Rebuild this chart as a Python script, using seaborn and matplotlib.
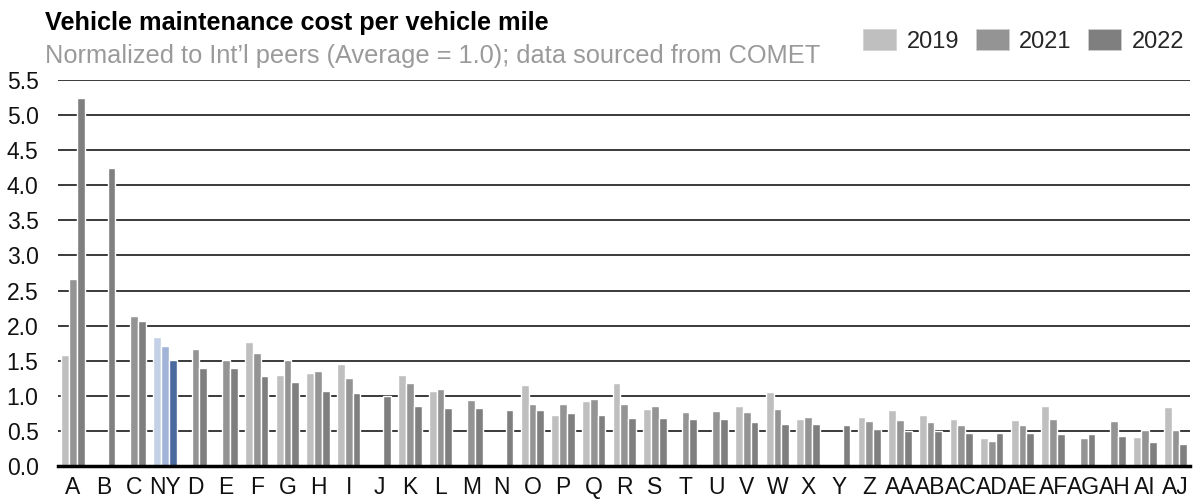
import numpy as np
import pandas as pd
import matplotlib
matplotlib.use("Agg")
import matplotlib.pyplot as plt
from matplotlib.patches import Patch
import seaborn as sns

# ------------------------------------------------------------------
# DATA (NaN = no bar)
# ------------------------------------------------------------------
categories = ["A", "B", "C", "NY", "D", "E", "F", "G", "H", "I", "J", "K", "L",
              "M", "N", "O", "P", "Q", "R", "S", "T", "U", "V", "W", "X", "Y",
              "Z", "AA", "AB", "AC", "AD", "AE", "AF", "AG", "AH", "AI", "AJ"]
years = ["2019", "2021", "2022"]
nan = np.nan

cost_2019 = [1.58, nan, nan, 1.84, nan, nan, 1.76, 1.30, 1.32, 1.45, nan, 1.29, 1.07,
             nan, nan, 1.15, 0.73, 0.92, 1.18, 0.81, nan, nan, 0.86, 1.05, 0.67, nan,
             0.70, 0.80, 0.72, 0.67, 0.40, 0.65, 0.86, nan, nan, 0.41, 0.84]
cost_2021 = [2.67, nan, 2.14, 1.71, 1.66, 1.51, 1.61, 1.51, 1.36, 1.26, nan, 1.18, 1.10,
             0.94, nan, 0.88, 0.88, 0.96, 0.89, 0.85, 0.77, 0.78, 0.77, 0.81, 0.70, nan,
             0.64, 0.65, 0.62, 0.59, 0.35, 0.58, 0.67, 0.40, 0.64, 0.51, 0.52]
cost_2022 = [5.24, 4.24, 2.06, 1.51, 1.39, 1.39, 1.28, 1.20, 1.07, 1.04, 1.00, 0.86, 0.83,
             0.83, 0.80, 0.80, 0.75, 0.72, 0.69, 0.69, 0.67, 0.67, 0.62, 0.60, 0.60, 0.58,
             0.53, 0.50, 0.50, 0.47, 0.47, 0.47, 0.45, 0.45, 0.43, 0.34, 0.32]

y_ticks = [0.0, 0.5, 1.0, 1.5, 2.0, 2.5, 3.0, 3.5, 4.0, 4.5, 5.0, 5.5]

grey_colors = {"2019": "#bfbfbf", "2021": "#949494", "2022": "#7f7f7f"}
ny_colors   = {"2019": "#c3d0e6", "2021": "#a1b4d8", "2022": "#4a6a9e"}

df = pd.DataFrame({
    "category": categories * 3,
    "year": [y for y in years for _ in categories],
    "value": cost_2019 + cost_2021 + cost_2022,
})

# ------------------------------------------------------------------
# PLOT
# ------------------------------------------------------------------
sns.set_style("white")
plt.rcParams["font.family"] = ["Liberation Sans", "DejaVu Sans"]

fig = plt.figure(figsize=(11.96, 5.0), dpi=100)
ax = fig.add_axes([58 / 1196, 34 / 500, 1132 / 1196, 386 / 500])

sns.barplot(
    data=df, x="category", y="value", hue="year",
    order=categories, hue_order=years,
    palette=grey_colors, width=0.76, gap=0,
    legend=False, ax=ax, zorder=3,
)

# recolour the NY group in blue shades (match bars by x position,
# since NaN bars are skipped inside the containers)
ny_idx = categories.index("NY")
for year, container in zip(years, ax.containers):
    for bar in container:
        cx = bar.get_x() + bar.get_width() / 2
        if abs(cx - ny_idx) < 0.5:
            bar.set_facecolor(ny_colors[year])

ax.set_xlim(-0.49, 36.47)
ax.set_ylim(0, 5.5)
ax.set_yticks(y_ticks)
ax.set_yticklabels([f"{t:.1f}" for t in y_ticks])
ax.set_xlabel("")
ax.set_ylabel("")

ax.yaxis.grid(True, color="#3a3a3a", linewidth=1.4, zorder=1)
ax.set_axisbelow(True)
for side in ["top", "right", "left"]:
    ax.spines[side].set_visible(False)
ax.spines["bottom"].set_color("black")
ax.spines["bottom"].set_linewidth(2.5)
ax.spines["bottom"].set_zorder(4)

ax.tick_params(axis="y", length=0, pad=14, labelsize=16.5, labelcolor="#111111")
ax.tick_params(axis="x", length=0, pad=7, labelsize=16.5, labelcolor="#111111")

# title + subtitle
fig.text(45 / 1196, 1 - 23 / 500, "Vehicle maintenance cost per vehicle mile",
         fontsize=18.2, fontweight="bold", color="black", va="center", ha="left")
fig.text(45 / 1196, 1 - 56 / 500,
         "Normalized to Int\u2019l peers (Average = 1.0); data sourced from COMET",
         fontsize=18.3, color="#9a9a9a", va="center", ha="left")

# legend
handles = [Patch(facecolor=grey_colors[y], edgecolor="#d0d0d0", linewidth=0.5)
           for y in years]
fig.legend(handles, years, loc="center right",
           bbox_to_anchor=(1194 / 1196, 1 - 41 / 500), ncol=3, frameon=False,
           fontsize=17, handlelength=1.4, handleheight=1.0,
           handletextpad=0.45, columnspacing=0.7, borderaxespad=0)

plt.savefig("out.png", dpi=100)
